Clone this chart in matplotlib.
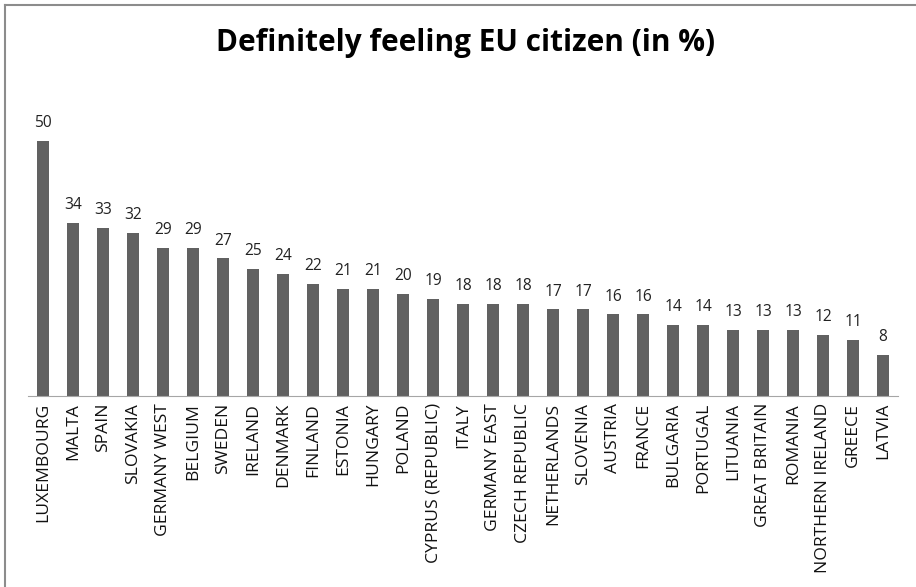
import matplotlib.pyplot as plt
from matplotlib.lines import Line2D

countries = ['LUXEMBOURG', 'MALTA', 'SPAIN', 'SLOVAKIA', 'GERMANY WEST', 'BELGIUM',
             'SWEDEN', 'IRELAND', 'DENMARK', 'FINLAND', 'ESTONIA', 'HUNGARY', 'POLAND',
             'CYPRUS (REPUBLIC)', 'ITALY', 'GERMANY EAST', 'CZECH REPUBLIC', 'NETHERLANDS',
             'SLOVENIA', 'AUSTRIA', 'FRANCE', 'BULGARIA', 'PORTUGAL', 'LITUANIA',
             'GREAT BRITAIN', 'ROMANIA', 'NORTHERN IRELAND', 'GREECE', 'LATVIA']
values = [50, 34, 33, 32, 29, 29, 27, 25, 24, 22, 21, 21, 20, 19, 18, 18, 18, 17,
          17, 16, 16, 14, 14, 13, 13, 13, 12, 11, 8]

plt.rcParams['font.family'] = ['Open Sans', 'DejaVu Sans']

fig = plt.figure(figsize=(9.16, 5.87), dpi=100)
# axes in pixels: x 28..898, baseline y=396, 60 units -> 306 px
ax = fig.add_axes([28 / 916, (587 - 396) / 587, 870 / 916, 306 / 587])

x = range(len(countries))
ax.bar(x, values, width=0.41, color='#616161')

# Value labels above each bar
for i, v in enumerate(values):
    ax.annotate(str(v), (i, v), xytext=(0, 7), textcoords='offset points',
                ha='center', va='bottom', fontsize=11.2, color='#222222')

ax.set_xlim(-0.5, len(countries) - 0.5)
ax.set_ylim(0, 60)
ax.set_xticks(list(x))
ax.set_xticklabels(countries, rotation=90, fontsize=12.6, color='#111111')
ax.tick_params(axis='x', length=0, pad=5)
ax.set_yticks([])

# Only the baseline stays
for side in ['top', 'right', 'left']:
    ax.spines[side].set_visible(False)
ax.spines['bottom'].set_color('#a6a6a6')

fig.text(466 / 916, 1 - 43 / 587, 'Definitely feeling EU citizen (in %)', ha='center', va='center',
         fontsize=21.4, fontweight='bold', color='black')

# Chart frame (top and left edges)
fig.add_artist(Line2D([5 / 916, 1], [1 - 5 / 587, 1 - 5 / 587], color='#8c8c8c', lw=1.5))
fig.add_artist(Line2D([5 / 916, 5 / 916], [0, 1 - 5 / 587], color='#8c8c8c', lw=1.5))

fig.savefig('out.png', dpi=100)
